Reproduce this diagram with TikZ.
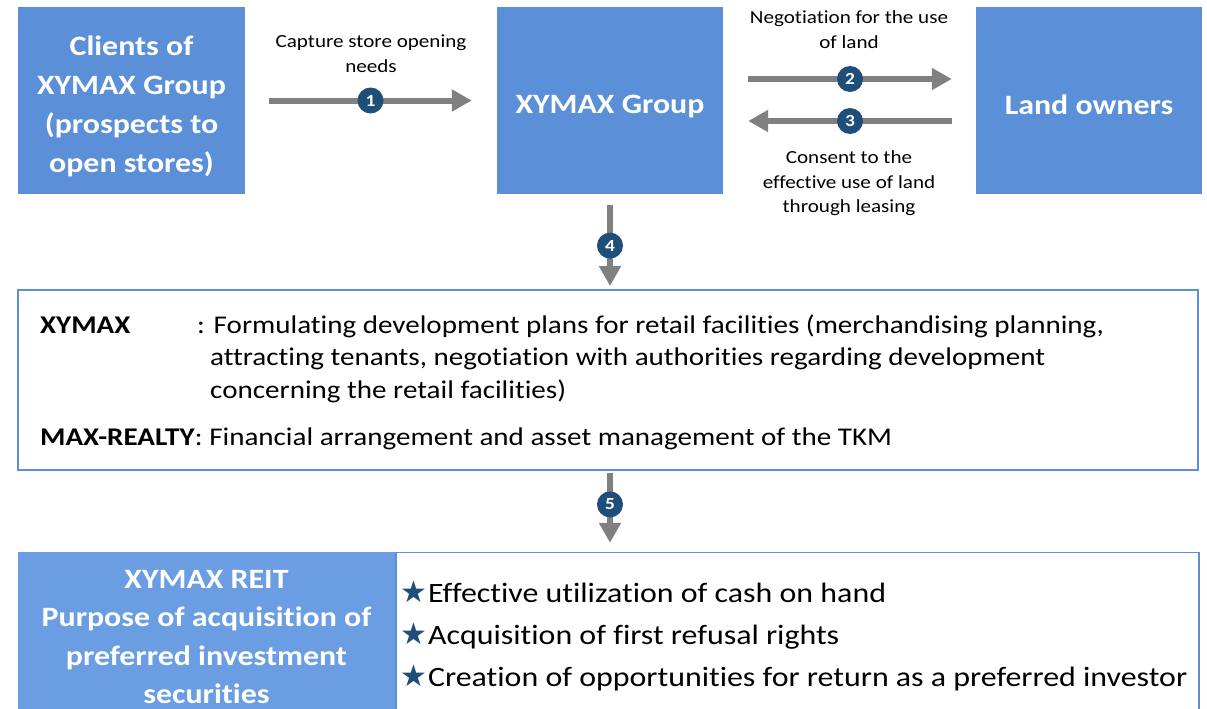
\documentclass[tikz,border=0pt]{standalone}
\usepackage{fontspec}
\setmainfont{Carlito}[FakeStretch=1.14, Ligatures=NoCommon]
\newfontfamily\symfont{DejaVu Sans}
\usetikzlibrary{positioning,arrows.meta}

\definecolor{boxblue}{HTML}{5B8FD7}
\definecolor{reitblue}{HTML}{6A9DE2}
\definecolor{navy}{HTML}{1F4E79}
\definecolor{arrowgray}{HTML}{808080}

\newcommand{\bstar}{{\symfont\fontsize{30}{30}\selectfont\textcolor{navy}{★}}\kern1pt}

\begin{document}
\begin{tikzpicture}[
        x=1pt, y=-1pt,
        party/.style={
            fill=boxblue,
            minimum width=227pt,
            minimum height=187pt,
            inner sep=0pt
        },
        partytext/.style={
            align=center,
            inner sep=0pt,
            text=white,
            font=\fontsize{28}{39}\selectfont\bfseries
        },
        panel/.style={
            draw=boxblue,
            line width=2pt,
            fill=white,
            inner sep=0pt
        },
        lbl/.style={
            align=center,
            inner sep=0pt,
            font=\fontsize{18.5}{24.5}\selectfont
        },
        desc/.style={
            anchor=base west,
            inner sep=0pt,
            font=\fontsize{25.5}{32}\selectfont
        },
        num/.style={
            circle,
            fill=navy,
            minimum size=26pt,
            inner sep=0pt,
            text=white,
            font=\fontsize{17}{17}\selectfont\bfseries
        },
        arr/.style={
            -{Triangle[length=20pt,width=21pt]},
            line width=6pt,
            draw=arrowgray
        }
    ]

    \useasboundingbox (0,0) rectangle (1207,709);

    % =========================
    % Top row
    % =========================
    \node[party] (clients) at (131.5,100.5) {};
    \node[party, minimum width=226pt] (group) at (610,100.5) {};
    \node[party, minimum width=226pt] (owners) at (1089,100.5) {};
    \node[partytext] (clients-t) at ([yshift=-6pt]clients.center) {Clients of\\XYMAX Group\\(prospects to\\open stores)};
    \node[partytext] (group-t) at ([yshift=-6pt]group.center) {XYMAX Group};
    \node[partytext] (owners-t) at ([yshift=-4pt]owners.center) {Land owners};

    \draw[arr] ([xshift=24pt]clients.east) -- node[num] (n1) {1} ([xshift=-25pt]group.west);
    \node[lbl] (needs) at (371,53.5) {Capture store opening\\needs};

    \draw[arr] ([xshift=25pt,yshift=21.5pt]group.east) -- node[num] (n2) {2} ([xshift=-24pt,yshift=21.5pt]owners.west);
    \draw[arr] ([xshift=-24pt,yshift=-20.5pt]owners.west) -- node[num] (n3) {3} ([xshift=25pt,yshift=-20.5pt]group.east);
    \node[lbl] (nego) at (849,29.5) {Negotiation for the use\\of land};
    \node[lbl] (consent) at (849,183.5) {Consent to the\\effective use of land\\through leasing};

    % =========================
    % Roles of the group
    % =========================
    \node[panel, minimum width=1180pt, minimum height=180pt] (roles) at (608,380) {};

    \draw[arr] ([yshift=-11pt]group.south) -- node[num] (n4) {4} ([yshift=3pt]group.south |- roles.north);

    \node[desc] (xy) at (40,333) {\bfseries XYMAX};
    \node[desc] (xy1) at (197,333) {: Formulating development plans for retail facilities (merchandising planning,};
    \node[desc] (xy2) at (210,365) {attracting tenants, negotiation with authorities regarding development};
    \node[desc] (xy3) at (210,398) {concerning the retail facilities)};
    \node[desc] (mr) at (40,445) {\textbf{MAX-REALTY}: Financial arrangement and asset management of the TKM};

    % =========================
    % REIT purpose
    % =========================
    \node[fill=reitblue, minimum width=377pt, minimum height=170pt, inner sep=0pt] (reit) at (206.5,637) {};
    \node[align=center, text=white, font=\fontsize{28}{38.5}\selectfont\bfseries] (reit-t) at (reit.center)
        {XYMAX REIT\\Purpose of acquisition of\\preferred investment\\securities};
    \node[panel, line width=1.5pt, minimum width=803pt, minimum height=170pt, anchor=north west] (aims) at (reit.north east) {};

    \coordinate (drop) at (group.south |- aims.north);
    \draw[arr] ([yshift=-2pt]group.south |- roles.south) -- node[num, pos=0.45] (n5) {5} ([yshift=9pt]drop);

    \node[anchor=west, align=left, inner sep=0pt, font=\fontsize{28}{42}\selectfont] (goals) at (400,636)
        {\bstar Effective utilization of cash on hand\\
         \bstar Acquisition of first refusal rights\\
         \bstar Creation of opportunities for return as a preferred investor};

\end{tikzpicture}
\end{document}
